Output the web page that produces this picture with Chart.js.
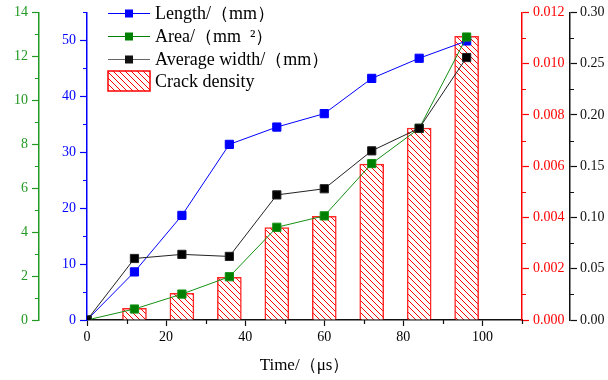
<!DOCTYPE html>
<html>
<head>
<meta charset="utf-8">
<script src="https://cdn.jsdelivr.net/npm/chart.js@4"></script>
<style>
  html, body { margin: 0; padding: 0; background: #fff; }
  #wrap { width: 608px; height: 380px; }
</style>
</head>
<body>
<div id="wrap"><canvas id="crackChart" width="608" height="380"></canvas></div>
<script>
// values
const timeUs = [0, 12, 24, 36, 48, 60, 72, 84, 96];
const lengthMm = [0, 8.6, 18.7, 31.4, 34.5, 36.9, 43.2, 46.8, 49.9];
const areaMm2 = [0, 0.5, 1.18, 1.97, 4.22, 4.74, 7.12, 8.72, 12.88];
const avgWidthMm = [0, 0.060, 0.064, 0.062, 0.122, 0.128, 0.165, 0.187, 0.256];
const crackDensity = [0, 0.00046, 0.00104, 0.00166, 0.00361, 0.00404, 0.00608, 0.00749, 0.01107];

const seriesNames = ['Length/（mm）', 'Area/（mm  ²）', 'Average width/（mm）', 'Crack density'];

const BLUE = '#0000ff';
const GREEN = '#008000';
const GREEN_AX = '#229922';
const BLACK = '#111111';
const RED = '#ff0000';
const SERIF = "'Liberation Serif', 'Times New Roman', serif";

const canvas = document.getElementById('crackChart');
const ctx = canvas.getContext('2d');

function hatchPattern() {
  const c = document.createElement('canvas');
  c.width = 6; c.height = 6;
  const g = c.getContext('2d');
  g.fillStyle = '#ffffff';
  g.fillRect(0, 0, 6, 6);
  g.strokeStyle = RED;
  g.lineWidth = 1;
  g.beginPath();
  g.moveTo(-1, -1); g.lineTo(7, 7);
  g.moveTo(-1, 5); g.lineTo(1, 7);
  g.moveTo(5, -1); g.lineTo(7, 1);
  g.stroke();
  return ctx.createPattern(c, 'repeat');
}
const hatch = hatchPattern();

const pts = (ys) => timeUs.map((t, i) => ({ x: t, y: ys[i] }));

function yAxis(color, pos, weight, max, step, width, digits, pad) {
  return {
    type: 'linear', position: pos, weight: weight,
    min: 0, max: max,
    afterFit: (s) => { s.width = width; },
    border: { color: color, width: 1.5 },
    grid: { drawOnChartArea: false, color: color, tickColor: color, tickLength: 7, tickWidth: 1.2 },
    ticks: {
      stepSize: step, includeBounds: false, color: color, padding: pad,
      font: { family: SERIF, size: 14 },
      callback: (v) => v.toFixed(digits)
    }
  };
}

// minor ticks half way between the labelled ones
const minorTicks = {
  id: 'minorTicks',
  afterDraw(chart) {
    const c = chart.ctx;
    const defs = [
      ['yArea', 1, 14, 2, GREEN_AX],
      ['yLen', 5, 55, 10, BLUE],
      ['yDen', 0.001, 0.012, 0.002, RED],
      ['yWid', 0.025, 0.30, 0.05, BLACK],
      ['x', 10, 110, 20, BLACK]
    ];
    c.save();
    c.lineWidth = 1.2;
    defs.forEach(([id, start, end, step, col]) => {
      const s = chart.scales[id];
      c.strokeStyle = col;
      c.beginPath();
      for (let v = start; v <= end + 1e-9; v += step) {
        const p = Math.round(s.getPixelForValue(v)) + 0.5;
        if (id === 'x') {
          c.moveTo(p, s.top); c.lineTo(p, s.top + 4);
        } else if (s.position === 'left') {
          c.moveTo(s.right, p); c.lineTo(s.right - 4, p);
        } else {
          c.moveTo(s.left, p); c.lineTo(s.left + 4, p);
        }
      }
      c.stroke();
    });
    c.restore();
  }
};

// legend drawn inside the plot, top left
const insideLegend = {
  id: 'insideLegend',
  afterDraw(chart) {
    const c = chart.ctx;
    const x0 = 108, x1 = 150, tx = 155;
    const rows = [13, 36, 59];
    const cols = [BLUE, GREEN, BLACK];
    const lineCols = [BLUE, GREEN, '#666666'];
    c.save();
    c.font = '18px ' + SERIF;
    c.textBaseline = 'middle';
    c.fillStyle = '#000';
    rows.forEach((y, i) => {
      c.strokeStyle = lineCols[i];
      c.lineWidth = 1.2;
      c.beginPath(); c.moveTo(x0, y + 0.5); c.lineTo(x1, y + 0.5); c.stroke();
      c.fillStyle = cols[i];
      c.fillRect(125, y - 3.5, 8, 8);
      c.fillStyle = '#000';
      c.fillText(seriesNames[i], tx, y + 1);
    });
    c.fillStyle = hatch;
    c.fillRect(108, 71, 42, 20);
    c.strokeStyle = RED;
    c.lineWidth = 1.5;
    c.strokeRect(108, 71, 42, 20);
    c.fillStyle = '#000';
    c.fillText(seriesNames[3], tx, 82);
    c.restore();
  }
};

new Chart(ctx, {
  type: 'bar',
  data: {
    datasets: [
      {
        type: 'line', label: seriesNames[0], data: pts(lengthMm), yAxisID: 'yLen',
        borderColor: BLUE, backgroundColor: BLUE, borderWidth: 1,
        pointStyle: 'rect', pointRadius: 5.8, order: 2
      },
      {
        type: 'line', label: seriesNames[1], data: pts(areaMm2), yAxisID: 'yArea',
        borderColor: '#159015', backgroundColor: GREEN, borderWidth: 1,
        pointStyle: 'rect', pointRadius: 5.8, order: 1
      },
      {
        type: 'line', label: seriesNames[2], data: pts(avgWidthMm), yAxisID: 'yWid',
        borderColor: '#222222', backgroundColor: '#000000', borderWidth: 1,
        pointStyle: 'rect', pointRadius: 5.8, order: 0
      },
      {
        type: 'bar', label: seriesNames[3], data: pts(crackDensity), yAxisID: 'yDen',
        backgroundColor: hatch, borderColor: 'rgba(255,0,0,0.85)', borderWidth: 1.5,
        barThickness: 24, order: 10
      }
    ]
  },
  options: {
    responsive: false,
    animation: false,
    devicePixelRatio: 1,
    layout: { padding: { top: 12, left: 0, right: 0, bottom: 0 } },
    plugins: { legend: { display: false }, tooltip: { enabled: false } },
    scales: {
      x: {
        type: 'linear', min: 0, max: 110, offset: false,
        afterFit: (s) => { s.height = 60; },
        border: { color: BLACK, width: 1.5 },
        grid: { drawOnChartArea: false, offset: false, color: BLACK, tickColor: BLACK, tickLength: 6, tickWidth: 1.2 },
        ticks: { stepSize: 20, includeBounds: false, color: '#000', padding: 3, maxRotation: 0, font: { family: SERIF, size: 14 } },
        title: {
          display: true, text: 'Time/（μs）', color: '#000',
          font: { family: SERIF, size: 17 }, padding: { top: 0, bottom: 4 }
        }
      },
      yArea: yAxis(GREEN_AX, 'left', 2, 14, 2, 39, 0, 4),
      yLen: yAxis(BLUE, 'left', 1, 55, 10, 48, 0, 4),
      yDen: yAxis(RED, 'right', 1, 0.012, 0.002, 48, 3, 4),
      yWid: yAxis(BLACK, 'right', 2, 0.30, 0.05, 38, 2, 3)
    }
  },
  plugins: [minorTicks, insideLegend]
});
</script>
</body>
</html>
